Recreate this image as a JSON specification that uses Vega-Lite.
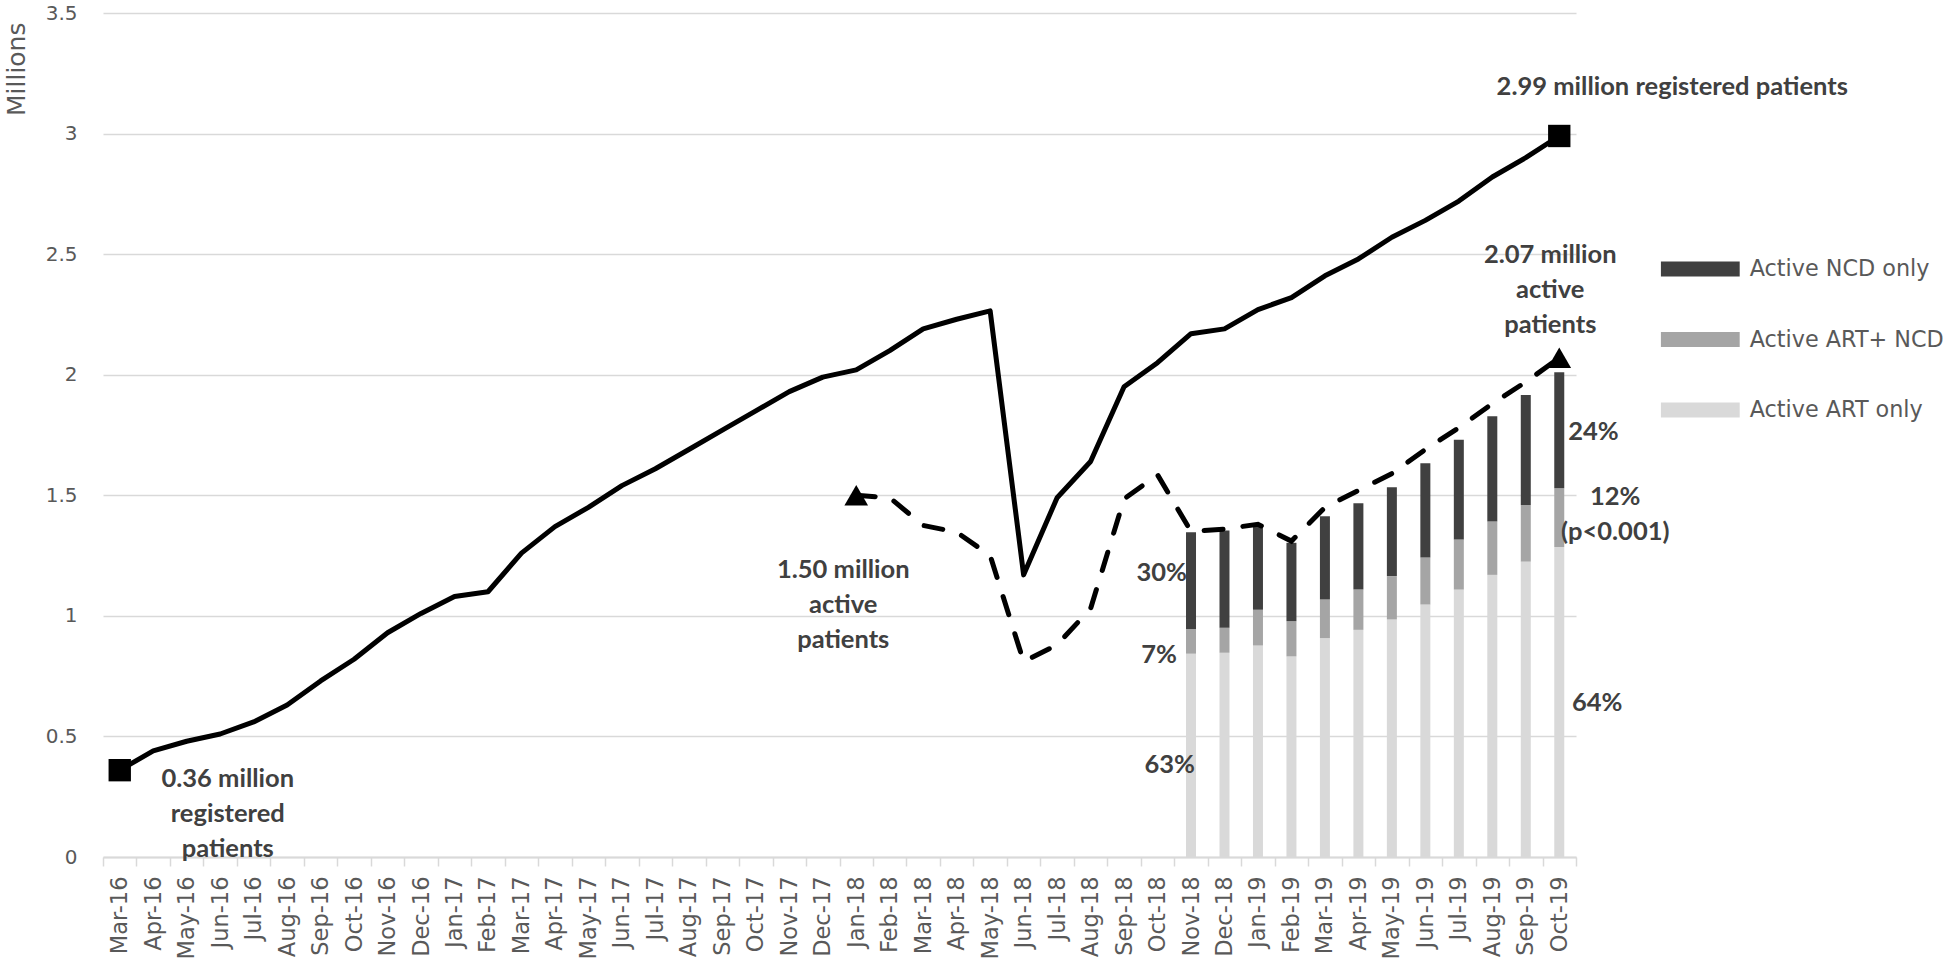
{
  "$schema": "https://vega.github.io/schema/vega-lite/v6.json",
  "autosize": "none",
  "width": 1473,
  "height": 844,
  "padding": {"left": 103, "top": 13, "right": 370, "bottom": 107},
  "background": "white",
  "config": {
    "view": {"stroke": null},
    "legend": {
      "orient": "none",
      "legendX": 1557.7,
      "legendY": 236,
      "padding": 0,
      "symbolType": "M-1,-0.19H1V0.19H-1Z",
      "symbolSize": 6241,
      "symbolStrokeWidth": 0,
      "symbolOpacity": 1,
      "clipHeight": 40,
      "rowPadding": 30.5,
      "labelFont": "DejaVu Sans",
      "labelFontSize": 22.3,
      "labelColor": "#595959",
      "labelOffset": 10,
      "labelLimit": 400
    }
  },
  "datasets": {
    "reg": [
      {"month": "Mar-16", "value": 0.36}, {"month": "Apr-16", "value": 0.44}, {"month": "May-16", "value": 0.48},
      {"month": "Jun-16", "value": 0.51}, {"month": "Jul-16", "value": 0.56}, {"month": "Aug-16", "value": 0.63},
      {"month": "Sep-16", "value": 0.73}, {"month": "Oct-16", "value": 0.82}, {"month": "Nov-16", "value": 0.93},
      {"month": "Dec-16", "value": 1.01}, {"month": "Jan-17", "value": 1.08}, {"month": "Feb-17", "value": 1.10},
      {"month": "Mar-17", "value": 1.26}, {"month": "Apr-17", "value": 1.37}, {"month": "May-17", "value": 1.45},
      {"month": "Jun-17", "value": 1.54}, {"month": "Jul-17", "value": 1.61}, {"month": "Aug-17", "value": 1.69},
      {"month": "Sep-17", "value": 1.77}, {"month": "Oct-17", "value": 1.85}, {"month": "Nov-17", "value": 1.93},
      {"month": "Dec-17", "value": 1.99}, {"month": "Jan-18", "value": 2.02}, {"month": "Feb-18", "value": 2.10},
      {"month": "Mar-18", "value": 2.19}, {"month": "Apr-18", "value": 2.23}, {"month": "May-18", "value": 2.265},
      {"month": "Jun-18", "value": 1.17}, {"month": "Jul-18", "value": 1.49}, {"month": "Aug-18", "value": 1.64},
      {"month": "Sep-18", "value": 1.95}, {"month": "Oct-18", "value": 2.05}, {"month": "Nov-18", "value": 2.17},
      {"month": "Dec-18", "value": 2.19}, {"month": "Jan-19", "value": 2.27}, {"month": "Feb-19", "value": 2.32},
      {"month": "Mar-19", "value": 2.41}, {"month": "Apr-19", "value": 2.48}, {"month": "May-19", "value": 2.57},
      {"month": "Jun-19", "value": 2.64}, {"month": "Jul-19", "value": 2.72}, {"month": "Aug-19", "value": 2.82},
      {"month": "Sep-19", "value": 2.90}, {"month": "Oct-19", "value": 2.99}
    ],
    "act": [
      {"month": "Jan-18", "value": 1.50}, {"month": "Feb-18", "value": 1.49}, {"month": "Mar-18", "value": 1.375},
      {"month": "Apr-18", "value": 1.347}, {"month": "May-18", "value": 1.25}, {"month": "Jun-18", "value": 0.81},
      {"month": "Jul-18", "value": 0.88}, {"month": "Aug-18", "value": 1.03}, {"month": "Sep-18", "value": 1.485},
      {"month": "Oct-18", "value": 1.585}, {"month": "Nov-18", "value": 1.35}, {"month": "Dec-18", "value": 1.36},
      {"month": "Jan-19", "value": 1.38}, {"month": "Feb-19", "value": 1.31}, {"month": "Mar-19", "value": 1.45},
      {"month": "Apr-19", "value": 1.52}, {"month": "May-19", "value": 1.59}, {"month": "Jun-19", "value": 1.69},
      {"month": "Jul-19", "value": 1.78}, {"month": "Aug-19", "value": 1.88}, {"month": "Sep-19", "value": 1.97},
      {"month": "Oct-19", "value": 2.07}
    ],
    "bars": [
      {"month": "Nov-18", "series": "Active ART only", "value": 0.843}, {"month": "Nov-18", "series": "Active ART+ NCD", "value": 0.101}, {"month": "Nov-18", "series": "Active NCD only", "value": 0.403},
      {"month": "Dec-18", "series": "Active ART only", "value": 0.847}, {"month": "Dec-18", "series": "Active ART+ NCD", "value": 0.104}, {"month": "Dec-18", "series": "Active NCD only", "value": 0.403},
      {"month": "Jan-19", "series": "Active ART only", "value": 0.877}, {"month": "Jan-19", "series": "Active ART+ NCD", "value": 0.148}, {"month": "Jan-19", "series": "Active NCD only", "value": 0.353},
      {"month": "Feb-19", "series": "Active ART only", "value": 0.832}, {"month": "Feb-19", "series": "Active ART+ NCD", "value": 0.146}, {"month": "Feb-19", "series": "Active NCD only", "value": 0.325},
      {"month": "Mar-19", "series": "Active ART only", "value": 0.908}, {"month": "Mar-19", "series": "Active ART+ NCD", "value": 0.160}, {"month": "Mar-19", "series": "Active NCD only", "value": 0.345},
      {"month": "Apr-19", "series": "Active ART only", "value": 0.942}, {"month": "Apr-19", "series": "Active ART+ NCD", "value": 0.167}, {"month": "Apr-19", "series": "Active NCD only", "value": 0.358},
      {"month": "May-19", "series": "Active ART only", "value": 0.985}, {"month": "May-19", "series": "Active ART+ NCD", "value": 0.180}, {"month": "May-19", "series": "Active NCD only", "value": 0.368},
      {"month": "Jun-19", "series": "Active ART only", "value": 1.047}, {"month": "Jun-19", "series": "Active ART+ NCD", "value": 0.195}, {"month": "Jun-19", "series": "Active NCD only", "value": 0.391},
      {"month": "Jul-19", "series": "Active ART only", "value": 1.109}, {"month": "Jul-19", "series": "Active ART+ NCD", "value": 0.208}, {"month": "Jul-19", "series": "Active NCD only", "value": 0.413},
      {"month": "Aug-19", "series": "Active ART only", "value": 1.170}, {"month": "Aug-19", "series": "Active ART+ NCD", "value": 0.221}, {"month": "Aug-19", "series": "Active NCD only", "value": 0.437},
      {"month": "Sep-19", "series": "Active ART only", "value": 1.225}, {"month": "Sep-19", "series": "Active ART+ NCD", "value": 0.235}, {"month": "Sep-19", "series": "Active NCD only", "value": 0.456},
      {"month": "Oct-19", "series": "Active ART only", "value": 1.285}, {"month": "Oct-19", "series": "Active ART+ NCD", "value": 0.244}, {"month": "Oct-19", "series": "Active NCD only", "value": 0.481}
    ]
  },
  "encoding": {
    "x": {
      "field": "month",
      "type": "ordinal",
      "scale": {
        "type": "band",
        "paddingInner": 0,
        "paddingOuter": 0,
        "domain": ["Mar-16","Apr-16","May-16","Jun-16","Jul-16","Aug-16","Sep-16","Oct-16","Nov-16","Dec-16",
                   "Jan-17","Feb-17","Mar-17","Apr-17","May-17","Jun-17","Jul-17","Aug-17","Sep-17","Oct-17","Nov-17","Dec-17",
                   "Jan-18","Feb-18","Mar-18","Apr-18","May-18","Jun-18","Jul-18","Aug-18","Sep-18","Oct-18","Nov-18","Dec-18",
                   "Jan-19","Feb-19","Mar-19","Apr-19","May-19","Jun-19","Jul-19","Aug-19","Sep-19","Oct-19"]
      },
      "axis": {
        "title": null,
        "labelAngle": -90,
        "labelFont": "DejaVu Sans",
        "labelFontSize": 22.5,
        "labelColor": "#595959",
        "labelPadding": 10,
        "tickBand": "extent",
        "tickColor": "#d9d9d9",
        "tickSize": 9,
        "tickWidth": 1.5,
        "domainColor": "#d9d9d9",
        "domainWidth": 2,
        "grid": false
      }
    },
    "y": {
      "field": "value",
      "type": "quantitative",
      "scale": {"domain": [0, 3.5], "nice": false, "zero": true},
      "axis": {
        "title": "Millions",
        "values": [0, 0.5, 1, 1.5, 2, 2.5, 3, 3.5],
        "format": "~g",
        "domain": false,
        "ticks": false,
        "tickSize": 0,
        "grid": true,
        "gridColor": "#d9d9d9",
        "gridWidth": 1.5,
        "labelFont": "DejaVu Sans",
        "labelFontSize": 20,
        "labelColor": "#595959",
        "labelPadding": 26,
        "titleFont": "DejaVu Sans",
        "titleFontSize": 25,
        "titleFontWeight": "normal",
        "titleColor": "#595959",
        "titleAngle": 270,
        "titleX": -87,
        "titleY": 9,
        "titleAlign": "right",
        "titleBaseline": "middle"
      }
    }
  },
  "layer": [
    {
      "data": {"name": "bars"},
      "mark": {"type": "bar", "width": 10},
      "encoding": {
        "color": {
          "field": "series",
          "type": "nominal",
          "title": null,
          "scale": {
            "domain": ["Active NCD only", "Active ART+ NCD", "Active ART only"],
            "range": ["#404040", "#a5a5a5", "#d9d9d9"]
          }
        },
        "order": {"field": "series", "sort": "ascending"}
      }
    },
    {
      "data": {"name": "reg"},
      "mark": {"type": "line", "color": "#000000", "strokeWidth": 5, "strokeJoin": "round"},
      "encoding": {}
    },
    {
      "data": {"name": "act"},
      "mark": {"type": "line", "color": "#000000", "strokeWidth": 5, "strokeDash": [19, 20], "strokeCap": "round"},
      "encoding": {}
    },
    {
      "data": {"name": "reg"},
      "transform": [{"filter": {"field": "month", "oneOf": ["Mar-16", "Oct-19"]}}],
      "mark": {"type": "point", "shape": "square", "filled": true, "color": "#000000", "size": 500, "opacity": 1},
      "encoding": {}
    },
    {
      "data": {"name": "act"},
      "transform": [{"filter": {"field": "month", "oneOf": ["Jan-18", "Oct-19"]}}],
      "mark": {"type": "point", "shape": "triangle-up", "filled": true, "color": "#000000", "size": 560, "opacity": 1},
      "encoding": {}
    },
    {
      "data": {"values": [{"month": "Oct-19", "value": 2.99, "label": "2.99 million registered patients"}]},
      "mark": {"type": "text", "font": "Lato", "fontWeight": "bold", "fontSize": 25.5, "color": "#404040", "align": "center", "baseline": "middle", "dx": 113, "dy": -49},
      "encoding": {"text": {"field": "label"}}
    },
    {
      "data": {"values": [{"month": "Oct-19", "value": 2.07, "label": "2.07 million\nactive\npatients"}]},
      "mark": {"type": "text", "font": "Lato", "fontWeight": "bold", "fontSize": 25.5, "color": "#404040", "align": "center", "baseline": "middle", "lineBreak": "\n", "lineHeight": 35, "dx": -9, "dy": -103},
      "encoding": {"text": {"field": "label"}}
    },
    {
      "data": {"values": [{"month": "Jan-18", "value": 1.50, "label": "1.50 million\nactive\npatients"}]},
      "mark": {"type": "text", "font": "Lato", "fontWeight": "bold", "fontSize": 25.5, "color": "#404040", "align": "center", "baseline": "middle", "lineBreak": "\n", "lineHeight": 35, "dx": -13, "dy": 75},
      "encoding": {"text": {"field": "label"}}
    },
    {
      "data": {"values": [{"month": "Mar-16", "value": 0.36, "label": "0.36 million\nregistered\npatients"}]},
      "mark": {"type": "text", "font": "Lato", "fontWeight": "bold", "fontSize": 25.5, "color": "#404040", "align": "center", "baseline": "middle", "lineBreak": "\n", "lineHeight": 35, "dx": 108, "dy": 9},
      "encoding": {"text": {"field": "label"}}
    },
    {
      "data": {"values": [{"month": "Nov-18", "value": 1.178, "label": "30%"}]},
      "mark": {"type": "text", "font": "Lato", "fontWeight": "bold", "fontSize": 25.5, "color": "#404040", "align": "right", "baseline": "middle", "dx": -4},
      "encoding": {"text": {"field": "label"}}
    },
    {
      "data": {"values": [{"month": "Nov-18", "value": 0.838, "label": "7%"}]},
      "mark": {"type": "text", "font": "Lato", "fontWeight": "bold", "fontSize": 25.5, "color": "#404040", "align": "right", "baseline": "middle", "dx": -14},
      "encoding": {"text": {"field": "label"}}
    },
    {
      "data": {"values": [{"month": "Nov-18", "value": 0.382, "label": "63%"}]},
      "mark": {"type": "text", "font": "Lato", "fontWeight": "bold", "fontSize": 25.5, "color": "#404040", "align": "right", "baseline": "middle", "dx": 4},
      "encoding": {"text": {"field": "label"}}
    },
    {
      "data": {"values": [{"month": "Oct-19", "value": 1.764, "label": "24%"}]},
      "mark": {"type": "text", "font": "Lato", "fontWeight": "bold", "fontSize": 25.5, "color": "#404040", "align": "left", "baseline": "middle", "dx": 9},
      "encoding": {"text": {"field": "label"}}
    },
    {
      "data": {"values": [{"month": "Oct-19", "value": 1.494, "label": "12%\n(p<0.001)"}]},
      "mark": {"type": "text", "font": "Lato", "fontWeight": "bold", "fontSize": 25.5, "color": "#404040", "align": "center", "baseline": "middle", "lineBreak": "\n", "lineHeight": 35, "dx": 56},
      "encoding": {"text": {"field": "label"}}
    },
    {
      "data": {"values": [{"month": "Oct-19", "value": 0.637, "label": "64%"}]},
      "mark": {"type": "text", "font": "Lato", "fontWeight": "bold", "fontSize": 25.5, "color": "#404040", "align": "center", "baseline": "middle", "dx": 38},
      "encoding": {"text": {"field": "label"}}
    }
  ]
}
